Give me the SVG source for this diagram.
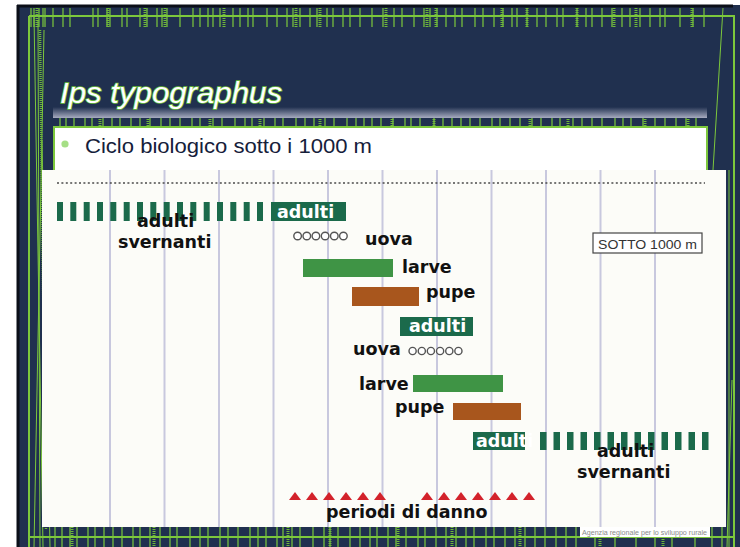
<svg xmlns="http://www.w3.org/2000/svg" width="740" height="547" viewBox="0 0 740 547">
<defs>
<linearGradient id="fade" x1="0" y1="0" x2="0" y2="1">
<stop offset="0" stop-color="#20304f"/>
<stop offset="1" stop-color="#a7abc0"/>
</linearGradient>
</defs>
<style>
.grn{stroke:#7cc83c;fill:none}
.grid{stroke:#c8c8de;stroke-width:2}
.lbl{font-family:"DejaVu Sans",Verdana,sans-serif;font-weight:bold;font-size:17.5px;fill:#111}
.wl{font-family:"DejaVu Sans",Verdana,sans-serif;font-weight:bold;font-size:17.5px;fill:#fff}
.dg{fill:#1b6a4b}
.lg{fill:#3f9445}
.br{fill:#a8561d}
.egg{fill:#fff;stroke:#555;stroke-width:1.4}
.tri{fill:#d3222b}
</style>
<rect width="740" height="547" fill="#fff"/>
<g id="slide-frame">
<rect x="17" y="5" width="723" height="542" fill="#20304f"/>
<path d="M17 6H733M18 5V547" stroke="#0b0f18" stroke-width="3"/>
<path class="grn" stroke-width="1.2" d="M31 8V27M34 8V27M39 8V27M43 8V27M45 8V27M53 8V27M63 8V27M70 8V27M93 8V27M98 8V27M107 8V27M110 8V27M122 8V27M127 8V27M140 8V27M147 8V27M157 8V27M162 8V27M167 8V27M180 8V27M193 8V27M200 8V27M208 8V27M213 8V27M220 8V27M233 8V27M240 8V27M248 8V27M253 8V27M267 8V27M277 8V27M287 8V27M293 8V27M300 8V27M310 8V27M317 8V27M327 8V27M333 8V27M343 8V27M350 8V27M360 8V27M372 8V27M383 8V27M394 8V27M402 8V27M414 8V27M424 8V27M430 8V27M437 8V27M446 8V27M455 8V27M462 8V27M475 8V27M483 8V27M494 8V27M503 8V27M512 8V27M517 8V27M527 8V27M537 8V27M546 8V27M557 8V27M563 8V27M577 8V27M586 8V27M592 8V27M602 8V27M612 8V27M622 8V27M630 8V27M640 8V27M650 8V27M660 8V27M665 8V27M680 8V27M693 8V27M704 8V27"/>
<path stroke="#6fb83a" stroke-width="3" stroke-dasharray="1 1" d="M37 8V27M108 8V27M145 8V27M165 8V27M224 8V27M296 8V27M320 8V27M386 8V27M427 8V27M436 8V27M502 8V27M527 8V27M577 8V27M614 8V27M636 8V27M692 8V27"/>
<path class="grn" stroke-width="1.2" d="M60 117V127M66 117V127M74 117V127M85 117V127M92 117V127M103 117V127M112 117V127M120 117V127M131 117V127M140 117V127M150 117V127M161 117V127M170 117V127M180 117V127M192 117V127M200 117V127M213 117V127M222 117V127M235 117V127M245 117V127M252 117V127M264 117V127M275 117V127M283 117V127M296 117V127M305 117V127M314 117V127M325 117V127M334 117V127M347 117V127M356 117V127M364 117V127M372 117V127M381 117V127M393 117V127M405 117V127M411 117V127M420 117V127M434 117V127M443 117V127M452 117V127M461 117V127M470 117V127M480 117V127M492 117V127M500 117V127M510 117V127M520 117V127M532 117V127M541 117V127M552 117V127M560 117V127M573 117V127M582 117V127M592 117V127M602 117V127M615 117V127M623 117V127M631 117V127M643 117V127M655 117V127M665 117V127M676 117V127M686 117V127M696 117V127"/>
<path stroke="#6fb83a" stroke-width="3" stroke-dasharray="1 1" d="M100 117V127M148 117V127M210 117V127M260 117V127M320 117V127M392 117V127M434 117V127M530 117V127M568 117V127M645 117V127M688 117V127"/>
<path class="grn" stroke-width="1.2" d="M55 527V547M62 527V547M70 527V547M77 527V547M88 527V547M95 527V547M104 527V547M113 527V547M122 527V547M133 527V547M140 527V547M150 527V547M160 527V547M170 527V547M177 527V547M190 527V547M200 527V547M208 527V547M220 527V547M228 527V547M238 527V547M250 527V547M258 527V547M266 527V547M277 527V547M283 527V547M292 527V547M300 527V547M313 527V547M324 527V547M330 527V547M338 527V547M350 527V547M360 527V547M370 527V547M377 527V547M388 527V547M396 527V547M406 527V547M418 527V547M425 527V547M436 527V547M446 527V547M456 527V547M466 527V547M474 527V547M486 527V547M494 527V547M505 527V547M515 527V547M525 527V547M535 527V547M545 527V547M556 527V547M566 527V547M576 527V547M595 527V547M615 527V547M636 527V547M655 527V547M672 527V547M695 527V547M712 527V547M722 527V547"/>
<path stroke="#6fb83a" stroke-width="3" stroke-dasharray="1 1" d="M72 527V547M154 527V547M288 527V547M330 527V547M398 527V547M452 527V547M520 527V547M600 527V547M663 527V547"/>
<path class="grn" stroke-width="2" d="M29 16H734V547M29 16V547M29 537H734"/>
<path class="grn" stroke-width="1" d="M34 16L43 547M38 20L40 547M44 30L34 547M42 140L50 547M723 8L713 170M732 380L727 547M729 170V547"/>
<path stroke="#6fb83a" stroke-width="2.5" stroke-dasharray="1 1" d="M40 30L46 530"/>
</g>
<g id="title">
<rect x="53" y="107" width="654" height="11" fill="url(#fade)"/>
<text x="60" y="103" font-family="'Liberation Sans',Arial,sans-serif" font-style="italic" font-size="29" fill="#fff" stroke="#6cbf3c" stroke-width="1.6" paint-order="stroke" textLength="222" lengthAdjust="spacingAndGlyphs">Ips typographus</text>
</g>
<g id="bullet-box">
<rect x="54" y="127" width="653" height="60" fill="#fff" stroke="#7cc83c" stroke-width="2"/>
<circle cx="65" cy="144" r="3.6" fill="#a6df86"/>
<text x="85" y="153" font-family="'Liberation Sans',Arial,sans-serif" font-size="20" fill="#15203a" textLength="287" lengthAdjust="spacingAndGlyphs">Ciclo biologico sotto i 1000 m</text>
</g>
<g id="chart">
<rect x="42" y="170" width="684" height="357" fill="#fcfcf8"/>
<path class="grid" d="M110 170V527M164.5 170V527M219 170V527M273.5 170V527M328 170V527M382.5 170V527M437 170V527M491.5 170V527M546 170V527M600.5 170V527M655 170V527"/>
<path d="M57 183H705" stroke="#4a4a4a" stroke-width="1.6" stroke-dasharray="2 2.4"/>
</g>
<g id="adulti-svernanti-1">
<g class="dg">
<rect x="57" y="202" width="6" height="19"/><rect x="70.3" y="202" width="6" height="19"/><rect x="83.7" y="202" width="6" height="19"/><rect x="97" y="202" width="6" height="19"/><rect x="110.3" y="202" width="6" height="19"/><rect x="123.7" y="202" width="6" height="19"/><rect x="137" y="202" width="6" height="19"/><rect x="150.3" y="202" width="6" height="19"/><rect x="163.7" y="202" width="6" height="19"/><rect x="177" y="202" width="6" height="19"/><rect x="190.3" y="202" width="6" height="19"/><rect x="203.7" y="202" width="6" height="19"/><rect x="217" y="202" width="6" height="19"/><rect x="230.3" y="202" width="6" height="19"/><rect x="243.7" y="202" width="6" height="19"/><rect x="257" y="202" width="6" height="19"/>
</g>
<text class="lbl" x="137" y="227">adulti</text>
<text class="lbl" x="118" y="248">svernanti</text>
</g>
<g id="adulti-1">
<rect class="dg" x="271" y="202" width="75" height="19"/>
<text class="wl" x="277" y="218">adulti</text>
</g>
<g id="uova-1">
<circle class="egg" cx="297.6" cy="236" r="3.8"/><circle class="egg" cx="306.8" cy="236" r="3.8"/><circle class="egg" cx="315.9" cy="236" r="3.8"/><circle class="egg" cx="325.1" cy="236" r="3.8"/><circle class="egg" cx="334.3" cy="236" r="3.8"/><circle class="egg" cx="343.4" cy="236" r="3.8"/>
<text class="lbl" x="365" y="245">uova</text>
</g>
<g id="larve-1">
<rect class="lg" x="303" y="259" width="90" height="18"/>
<text class="lbl" x="402" y="273">larve</text>
</g>
<g id="pupe-1">
<rect class="br" x="352" y="287" width="67" height="19"/>
<text class="lbl" x="426" y="298">pupe</text>
</g>
<g id="adulti-2">
<rect class="dg" x="400" y="317" width="73" height="19"/>
<text class="wl" x="409" y="332">adulti</text>
</g>
<g id="uova-2">
<text class="lbl" x="353" y="355">uova</text>
<circle class="egg" cx="412.6" cy="351" r="3.6"/><circle class="egg" cx="421.8" cy="351" r="3.6"/><circle class="egg" cx="430.9" cy="351" r="3.6"/><circle class="egg" cx="440.1" cy="351" r="3.6"/><circle class="egg" cx="449.3" cy="351" r="3.6"/><circle class="egg" cx="458.4" cy="351" r="3.6"/>
</g>
<g id="larve-2">
<text class="lbl" x="359" y="390">larve</text>
<rect class="lg" x="413" y="375" width="90" height="17"/>
</g>
<g id="pupe-2">
<text class="lbl" x="395" y="413">pupe</text>
<rect class="br" x="453" y="403" width="68" height="17"/>
</g>
<g id="adulti-3">
<rect class="dg" x="473" y="432" width="52" height="18"/>
<text class="wl" x="476" y="447">adulti</text>
<g class="dg">
<rect x="540" y="432" width="6.5" height="18"/><rect x="553.5" y="432" width="6.5" height="18"/><rect x="567" y="432" width="6.5" height="18"/><rect x="580.5" y="432" width="6.5" height="18"/><rect x="594" y="432" width="6.5" height="18"/><rect x="607.5" y="432" width="6.5" height="18"/><rect x="621" y="432" width="6.5" height="18"/><rect x="634.5" y="432" width="6.5" height="18"/><rect x="648" y="432" width="6.5" height="18"/><rect x="661.5" y="432" width="6.5" height="18"/><rect x="675" y="432" width="6.5" height="18"/><rect x="688.5" y="432" width="6.5" height="18"/><rect x="702" y="432" width="6.5" height="18"/>
</g>
<text class="lbl" x="597" y="457">adulti</text>
<text class="lbl" x="577" y="478">svernanti</text>
</g>
<g id="periodi-di-danno">
<g class="tri">
<path d="M289 500L295 492L301 500Z"/><path d="M306 500L312 492L318 500Z"/><path d="M323 500L329 492L335 500Z"/><path d="M340 500L346 492L352 500Z"/><path d="M357 500L363 492L369 500Z"/><path d="M374 500L380 492L386 500Z"/>
<path d="M421 500L427 492L433 500Z"/><path d="M438 500L444 492L450 500Z"/><path d="M455 500L461 492L467 500Z"/><path d="M472 500L478 492L484 500Z"/><path d="M489 500L495 492L501 500Z"/><path d="M506 500L512 492L518 500Z"/><path d="M523 500L529 492L535 500Z"/>
</g>
<text class="lbl" x="326" y="518">periodi di danno</text>
</g>
<g id="sotto-label">
<rect x="593" y="233" width="109" height="20" fill="#fff" stroke="#444" stroke-width="1.2"/>
<text x="647.5" y="248.5" text-anchor="middle" font-family="'Liberation Sans',Arial,sans-serif" font-size="13" fill="#333" textLength="99" lengthAdjust="spacingAndGlyphs">SOTTO 1000 m</text>
</g>
<g id="credit">
<rect x="580" y="527" width="130" height="10" fill="#fff"/>
<text x="582" y="535" font-family="'Liberation Sans',Arial,sans-serif" font-size="7.5" fill="#8a8a8a" textLength="125" lengthAdjust="spacingAndGlyphs">Agenzia regionale per lo sviluppo rurale</text>
</g>
</svg>
